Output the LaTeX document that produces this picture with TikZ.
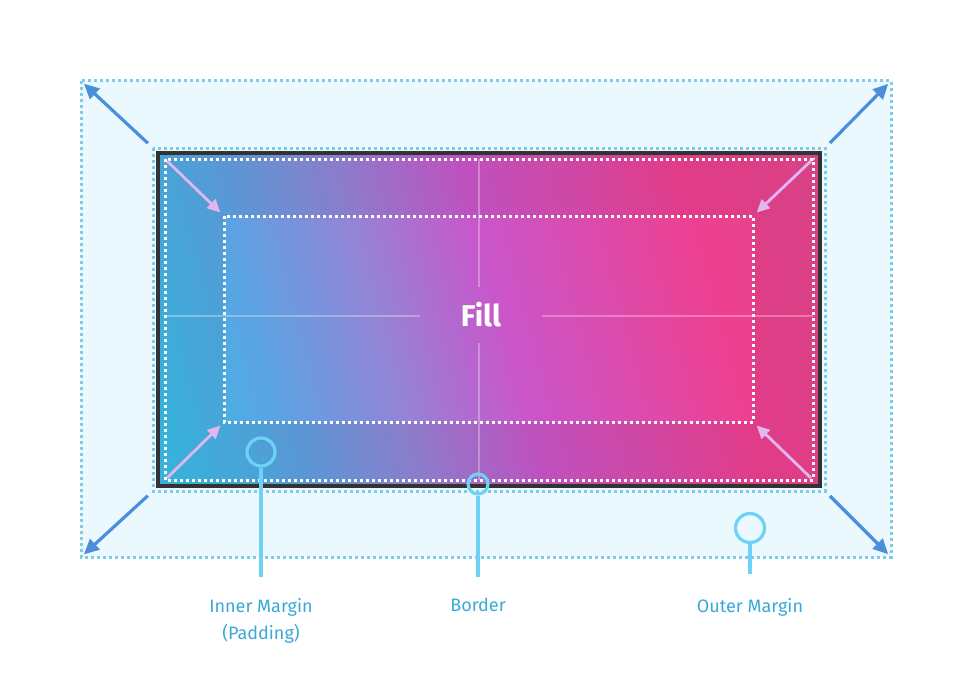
\documentclass[tikz,border=0pt]{standalone}
\usepackage{fontspec}
\setmainfont{Fira Sans}
\usetikzlibrary{arrows.meta,positioning}

\definecolor{outerfill}{HTML}{EBF8FD}
\definecolor{margindot}{HTML}{7DCDEA}
\definecolor{borderdark}{HTML}{333333}
\definecolor{arrowblue}{HTML}{4A8FDB}
\definecolor{arrowpink}{HTML}{E2B6EE}
\definecolor{callcyan}{HTML}{6DD2F5}
\definecolor{labelblue}{HTML}{3AA8D8}
\definecolor{gcyan}{HTML}{3ABCE6}
\definecolor{gblue}{HTML}{5CA2E2}
\definecolor{glav}{HTML}{9484D6}
\definecolor{gmag}{HTML}{C956CA}
\definecolor{gpink}{HTML}{EE4090}
\definecolor{gdark}{HTML}{E4468E}

\pgfdeclarehorizontalshading{boxfill}{100bp}{color(0bp)=(gcyan); color(21bp)=(gcyan); color(31bp)=(gblue); color(41bp)=(glav); color(51bp)=(gmag); color(69bp)=(gpink); color(80bp)=(gdark); color(100bp)=(gdark)}

\tikzset{
    dotline/.style={line width=3pt, dash pattern=on 3pt off 3pt},
    outarrow/.style={arrowblue, line width=3.2pt, -{Triangle[length=15pt,width=14pt]}, shorten <=7pt, shorten >=4pt},
    inarrow/.style={arrowpink, line width=2.8pt, -{Triangle[length=13pt,width=12pt]}, shorten <=3pt, shorten >=5pt},
    crossline/.style={white, opacity=0.3, line width=2.5pt},
    callcircle/.style={circle, draw=callcyan, line width=3.2pt, inner sep=0pt},
    callline/.style={callcyan, line width=3.2pt},
    calllabel/.style={labelblue, inner sep=0pt, align=center, font=\fontsize{18}{27}\selectfont}
}

\begin{document}
\begin{tikzpicture}[x=1pt, y=-1pt]

        \useasboundingbox (0,0) rectangle (972,693);

        % Outer margin
        \fill[outerfill] (81,81) rectangle (891,557);
        \draw[dotline, margindot] (81,81) rectangle (891,557);
        \coordinate (otl) at (81,81);
        \coordinate (otr) at (891,81);
        \coordinate (obl) at (81,557);
        \coordinate (obr) at (891,557);

        % Dotted line round the border
        \draw[dotline, margindot] (153,148) rectangle (825,491);
        \coordinate (mtl) at (153,148);
        \coordinate (mtr) at (825,148);
        \coordinate (mbl) at (153,491);
        \coordinate (mbr) at (825,491);

        % Fill, the padding band a little darker, and border
        \shade[shading=boxfill, shading angle=15] (158,153) rectangle (820,486);
        \fill[black, opacity=0.05, even odd rule] (158,153) rectangle (820,486) (224,216) rectangle (753,422);
        \draw[borderdark, line width=4pt] (158,153) rectangle (820,486);

        % Inner edge and padding
        \draw[dotline, white] (165,159) rectangle (813,480);
        \draw[dotline, white] (224,216) rectangle (753,422);
        \coordinate (itl) at (165,159);
        \coordinate (itr) at (813,159);
        \coordinate (ibl) at (165,480);
        \coordinate (ibr) at (813,480);
        \coordinate (ptl) at (224,216);
        \coordinate (ptr) at (753,216);
        \coordinate (pbl) at (224,422);
        \coordinate (pbr) at (753,422);

        % Fill label and cross lines
        \node[white, font=\fontsize{30}{30}\selectfont\bfseries, minimum width=122pt, minimum height=55pt, inner sep=0pt] (fill) at (481,315) {Fill};
        \coordinate (lmid) at (165,316);
        \coordinate (rmid) at (813,316);
        \coordinate (tmid) at (479,159);
        \coordinate (bmid) at (479,480);
        \draw[crossline] (lmid) -- (lmid -| fill.west);
        \draw[crossline] (rmid -| fill.east) -- (rmid);
        \draw[crossline] (tmid) -- (tmid |- fill.north);
        \draw[crossline] (bmid |- fill.south) -- (bmid);

        % Margin arrows
        \draw[outarrow] (mtl) -- (otl);
        \draw[outarrow] (mtr) -- (otr);
        \draw[outarrow] (mbl) -- (obl);
        \draw[outarrow] (mbr) -- (obr);

        % Padding arrows
        \draw[inarrow] (itl) -- (ptl);
        \draw[inarrow] (itr) -- (ptr);
        \draw[inarrow] (ibl) -- (pbl);
        \draw[inarrow] (ibr) -- (pbr);

        % Callouts
        \node[callcircle, minimum size=28pt] (padc) at (261,452) {};
        \coordinate (padend) at (261,577);
        \draw[callline] (padc.south) -- (padend);
        \node[calllabel, below=21pt of padend] (padl) {Inner Margin\\(Padding)};

        \node[callcircle, minimum size=20pt] (bdrc) at (478,484) {};
        \coordinate (bdrend) at (478,577);
        \draw[callline] (bdrc.south) -- (bdrend);
        \node[calllabel, below=21pt of bdrend] (bdrl) {Border};

        \node[callcircle, minimum size=29pt] (outc) at (750,528) {};
        \coordinate (outend) at (750,574);
        \draw[callline] (outc.south) -- (outend);
        \node[calllabel, below=24pt of outend] (outl) {Outer Margin};

    \end{tikzpicture}
\end{document}
